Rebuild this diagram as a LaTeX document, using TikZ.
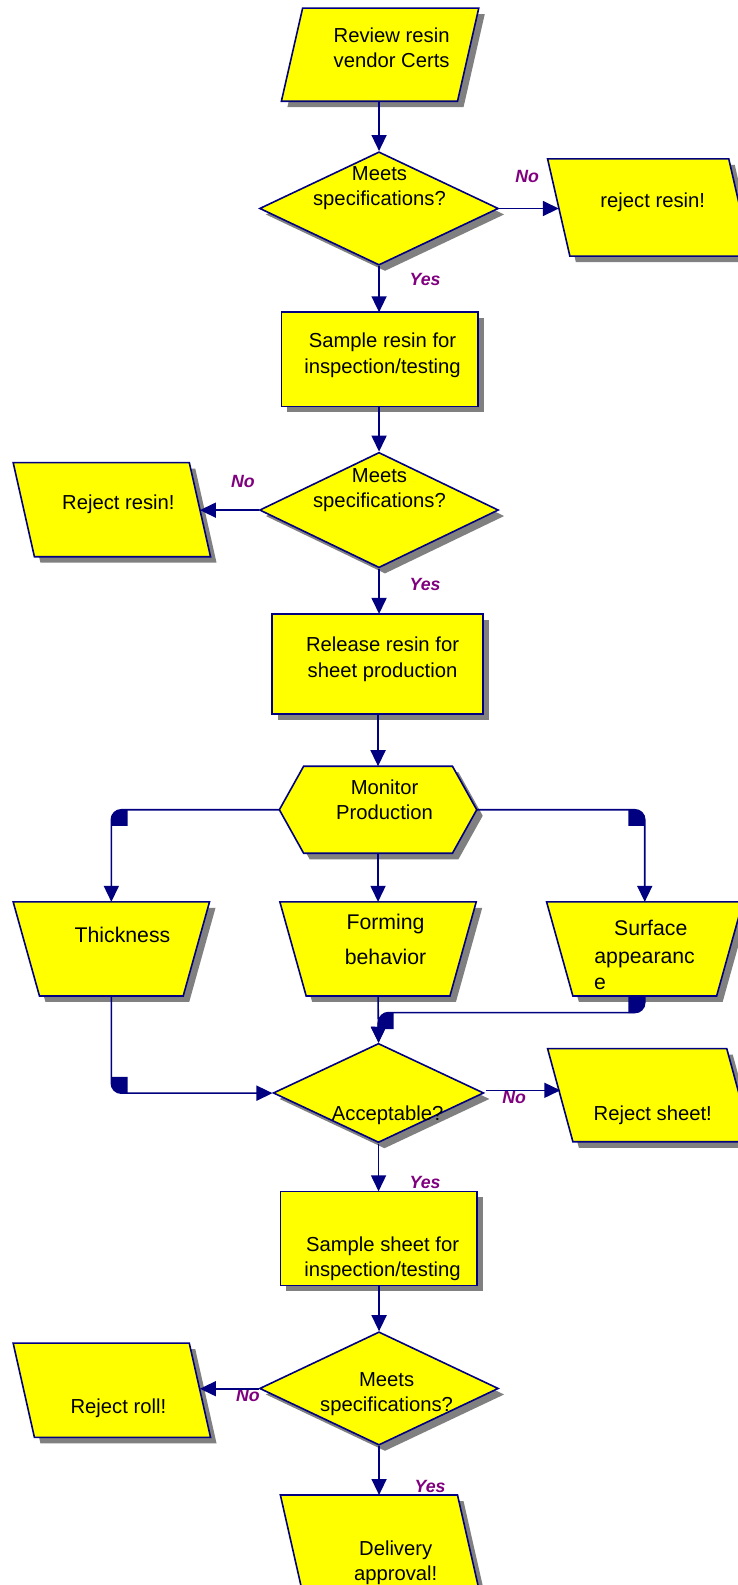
\documentclass[tikz,border=0pt]{standalone}
\usepackage{fontspec}
\setmainfont{Liberation Sans}
\usetikzlibrary{shapes.geometric,shadows,arrows.meta,calc}
\definecolor{navy}{RGB}{0,0,128}
\definecolor{ylw}{RGB}{255,255,0}
\definecolor{shgray}{RGB}{128,128,128}
\definecolor{lbl}{RGB}{128,0,128}
\tikzset{
  shp/.style={draw=navy, fill=ylw, line width=1.6pt,
    drop shadow={shadow xshift=6pt, shadow yshift=-6pt, fill=shgray, opacity=1}},
  hold/.style={rectangle, draw=none, fill=none, inner sep=0pt, outer sep=0pt},
  dia/.style={shp, diamond, inner sep=2pt},
  txt/.style={font=\fontsize{20}{25}\selectfont, align=center, inner sep=0pt},
  wtxt/.style={font=\fontsize{21}{25}\selectfont, align=center, inner sep=0pt},
  lab/.style={font=\fontsize{17.5}{19}\selectfont\bfseries\itshape, text=lbl, inner sep=0pt},
  arr/.style={draw=navy, line width=1.6pt, -{Triangle[length=16pt,width=15pt]}},
  blob/.style={fill=navy, draw=none}
}
% parallelogram, top shifted left
\newcommand\drawparaL[2]{\path[shp] (#1.north west) -- ($(#1.north east)+(-#2,0)$) -- (#1.south east) -- ($(#1.south west)+(#2,0)$) -- cycle;}
% parallelogram, top shifted right
\newcommand\drawparaR[2]{\path[shp] ($(#1.north west)+(#2,0)$) -- (#1.north east) -- ($(#1.south east)+(-#2,0)$) -- (#1.south west) -- cycle;}
% trapezoid, wide top
\newcommand\drawtrap[2]{\path[shp] (#1.north west) -- (#1.north east) -- ($(#1.south east)+(-#2,0)$) -- ($(#1.south west)+(#2,0)$) -- cycle;}
% hexagon
\newcommand\drawhexa[2]{\path[shp] (#1.west) -- ($(#1.north west)+(#2,0)$) -- ($(#1.north east)+(-#2,0)$) -- (#1.east) -- ($(#1.south east)+(-#2,0)$) -- ($(#1.south west)+(#2,0)$) -- cycle;}
\begin{document}
\begin{tikzpicture}[x=1pt,y=1pt]
\useasboundingbox (0,0) rectangle (738,-1585);
\fill[white] (0,0) rectangle (738,-1585);
\clip (0,0) rectangle (738,-1585);
\begin{scope}[scale=1.012, transform shape]

% shape holders
\node[hold, minimum width=195pt, minimum height=92pt] (p1) at (375.5,-54) {};
\node[hold, minimum width=201pt, minimum height=96pt] (p2) at (641.5,-205) {};
\node[hold, minimum width=194pt, minimum height=93pt] (r1) at (375,-355) {};
\node[hold, minimum width=195pt, minimum height=93pt] (p3) at (110.5,-503.5) {};
\node[hold, minimum width=208pt, minimum height=99pt] (r2) at (373,-656) {};
\node[hold, minimum width=195pt, minimum height=86pt] (hex) at (373.5,-800) {};
\node[hold, minimum width=194pt, minimum height=93pt] (tk) at (110,-937.5) {};
\node[hold, minimum width=194pt, minimum height=93pt] (fb) at (373.5,-937.5) {};
\node[hold, minimum width=194pt, minimum height=93pt] (sa) at (637,-937.5) {};
\node[hold, minimum width=202pt, minimum height=92pt] (p4) at (642,-1082) {};
\node[hold, minimum width=194pt, minimum height=93pt] (r3) at (374,-1223.5) {};
\node[hold, minimum width=195pt, minimum height=93pt] (p5) at (110.5,-1373.5) {};
\node[hold, minimum width=200pt, minimum height=110pt] (p6) at (377,-1532) {};

% shapes
\drawparaR{p1}{21}
\node[dia, minimum width=236pt, minimum height=112pt] (d1) at (374.5,-206) {};
\drawparaL{p2}{22}
\path[shp] (r1.north west) rectangle (r1.south east);
\node[dia, minimum width=236pt, minimum height=114pt] (d2) at (374.5,-504) {};
\drawparaL{p3}{21}
\path[shp] (r2.north west) rectangle (r2.south east);
\drawhexa{hex}{24}
\drawtrap{tk}{26}
\drawtrap{fb}{26}
\drawtrap{sa}{26}
\node[dia, minimum width=208pt, minimum height=98pt] (acc) at (374,-1080) {};
\drawparaL{p4}{25}
\path[shp] (r3.north west) rectangle (r3.south east);
\node[dia, minimum width=236pt, minimum height=112pt] (d3) at (374.5,-1372) {};
\drawparaL{p5}{21}
\drawparaL{p6}{25}

% texts
\node[txt] (t1) at (387,-47) {Review resin\\vendor Certs};
\node[txt] (t2) at (375,-186) {Meets\\specifications?};
\node[txt] (t3) at (645,-200) {reject resin!};
\node[txt] (t4) at (378,-351) {Sample resin for\\inspection/testing};
\node[txt] (t5) at (375,-484.5) {Meets\\specifications?};
\node[txt] (t6) at (117,-498) {Reject resin!};
\node[txt] (t7) at (378,-651.5) {Release resin for\\sheet production};
\node[txt] (t8) at (380,-790) {Monitor\\Production};
\node[wtxt] (t9) at (121,-924) {Thickness};
\node[wtxt] (t10) at (381,-913) {Forming};
\node[wtxt] (t11) at (381,-946) {behavior};
\node[wtxt] (t12) at (643,-917) {Surface};
\node[wtxt] (t13) at (637,-949) {appearanc};
\node[wtxt, anchor=west] (t14) at (587,-972) {e};
\node[txt] (t15) at (383,-1102) {Acceptable?};
\node[txt] (t16) at (645,-1102) {Reject sheet!};
\node[txt] (t17) at (378,-1244) {Sample sheet for\\inspection/testing};
\node[txt] (t18) at (382,-1377.5) {Meets\\specifications?};
\node[txt] (t19) at (117,-1392) {Reject roll!};
\node[txt] (t20) at (391,-1544.5) {Delivery\\approval!};

% labels
\node[lab] (n1) at (521,-174) {No};
\node[lab] (y1) at (420,-276) {Yes};
\node[lab] (n2) at (240,-476) {No};
\node[lab] (y2) at (420,-578) {Yes};
\node[lab] (n3) at (508,-1084) {No};
\node[lab] (y3) at (420,-1168) {Yes};
\node[lab] (n4) at (245,-1379) {No};
\node[lab] (y4) at (425,-1469) {Yes};

% connection points on slanted sides
\coordinate (p2in) at ($(p2.west)+(11,0)$);
\coordinate (p3in) at ($(p3.east)+(-10.5,0)$);
\coordinate (p4in) at ($(p4.west)+(12.5,0)$);
\coordinate (p5in) at ($(p5.east)+(-10.5,0)$);

% connectors
\draw[arr] (p1.south -| d1.north) -- (d1.north);
\draw[arr] (d1.east) -- (d1.east -| p2in);
\draw[arr] (d1.south) -- (r1.north -| d1.south);
\draw[arr] (r1.south -| d2.north) -- (d2.north);
\draw[arr] (d2.west) -- (d2.west -| p3in);
\draw[arr] (d2.south) -- (r2.north -| d2.south);
\draw[arr] (r2.south -| hex.north) -- (hex.north);
\draw[arr, rounded corners=10pt] (hex.west) -| (tk.north);
\draw[arr, rounded corners=10pt] (hex.east) -| (sa.north);
\draw[arr] (hex.south) -- (fb.north);
\draw[arr] (fb.south) -- (acc.north);
\coordinate (sajoin) at ($(acc.north)+(0,30)$);
\draw[arr, rounded corners=10pt] (sa.south) |- (sajoin) -- (acc.north);
\draw[arr, rounded corners=10pt] (tk.south) |- (acc.west);
\coordinate (accno) at ($(acc.east)+(1,3)$);
\draw[arr] (accno) -- (accno -| p4in);
\draw[arr] (acc.south) -- (r3.north -| acc.south);
\draw[arr] (r3.south -| d3.north) -- (d3.north);
\draw[arr] (d3.west) -- (d3.west -| p5in);
\draw[arr] (d3.south) -- (d3.south |- p6.north);

% corner blobs
\fill[blob] (126,-800) -- (120,-800) arc[start angle=90,end angle=180,radius=10] -- (110,-816) -- (126,-816) -- cycle;
\fill[blob] (621,-800) -- (627,-800) arc[start angle=90,end angle=0,radius=10] -- (637,-816) -- (621,-816) -- cycle;
\fill[blob] (637,-985) -- (637,-991) arc[start angle=0,end angle=-90,radius=10] -- (621,-1001) -- (621,-985) -- cycle;
\fill[blob] (389,-1001) -- (383,-1001) arc[start angle=90,end angle=180,radius=10] -- (373,-1017) -- (389,-1017) -- cycle;
\fill[blob] (110,-1064) -- (110,-1070) arc[start angle=180,end angle=270,radius=10] -- (126,-1080) -- (126,-1064) -- cycle;
\end{scope}
\end{tikzpicture}
\end{document}
